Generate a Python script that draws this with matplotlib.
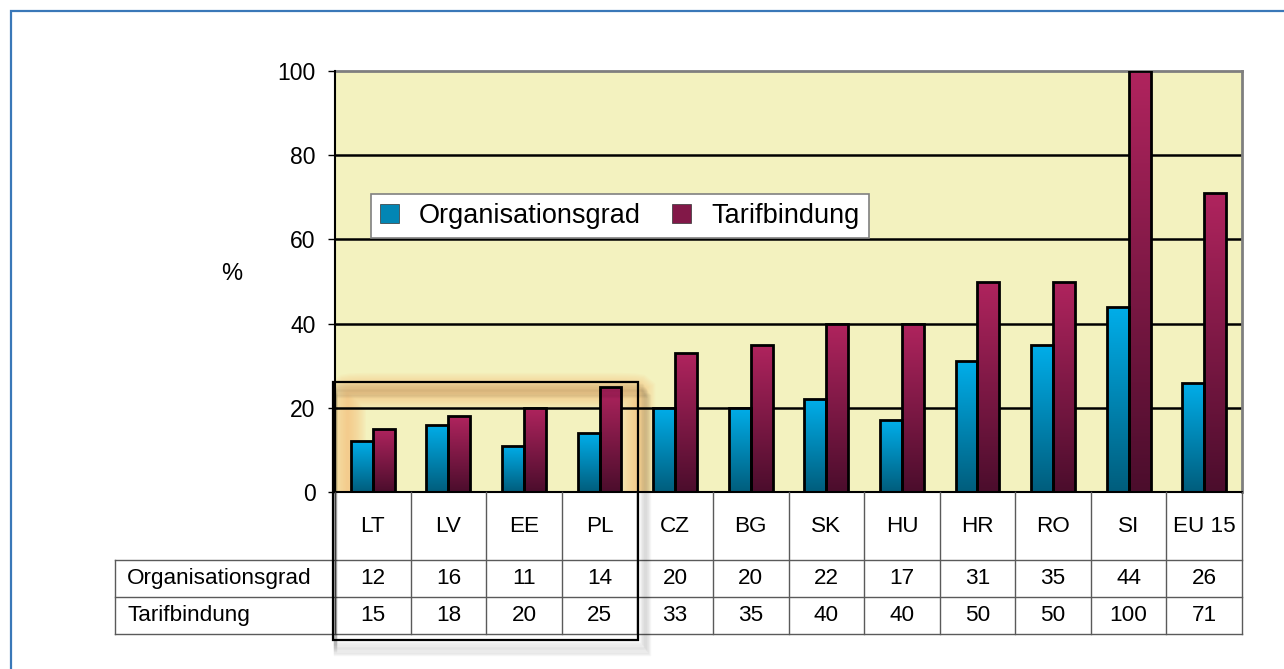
import numpy as np
import matplotlib
matplotlib.use("Agg")
import matplotlib.pyplot as plt
from matplotlib.colors import LinearSegmentedColormap
from matplotlib.patches import Rectangle, FancyBboxPatch, Patch

plt.rcParams['font.family'] = ['Liberation Sans', 'DejaVu Sans']

# Data
countries = ["LT", "LV", "EE", "PL", "CZ", "BG", "SK", "HU", "HR", "RO", "SI", "EU 15"]
organisationsgrad = [12, 16, 11, 14, 20, 20, 22, 17, 31, 35, 44, 26]
tarifbindung = [15, 18, 20, 25, 33, 35, 40, 40, 50, 50, 100, 71]
series_names = ["Organisationsgrad", "Tarifbindung"]

W, H = 1284, 669
fig = plt.figure(figsize=(W / 100, H / 100), dpi=100)
fig.patch.set_facecolor("white")


def fx(px):
    return px / W


def fy(py):
    return 1 - py / H


# blue frame around the whole picture
fig.patches.append(Rectangle((fx(11), -0.02), 1.02, fy(11) + 0.02, transform=fig.transFigure,
                             fill=False, edgecolor="#3a78b8", lw=1.6, zorder=0))

# main plot area
left, right, top, bottom = 335, 1242, 71, 492
ax = fig.add_axes([fx(left), fy(bottom), fx(right - left), (bottom - top) / H])
ax.set_facecolor("#f3f2bf")
n = len(countries)

x = np.arange(n) + 0.5
bw = 0.29
blue_top, blue_bot = "#00aeea", "#005d7c"
red_top, red_bot = "#b0245e", "#4b0d2c"


def gradient_bars(bars, c_top, c_bot):
    cmap = LinearSegmentedColormap.from_list("g", [c_bot, c_top])
    grad = np.linspace(0, 1, 256).reshape(-1, 1)
    for b in bars:
        x0, y0 = b.get_xy()
        im = ax.imshow(grad, extent=[x0, x0 + b.get_width(), y0, y0 + b.get_height()],
                       origin="lower", cmap=cmap, aspect="auto", zorder=2.5)
        im.set_clip_path(b)


b1 = ax.bar(x - bw / 2, organisationsgrad, bw, facecolor="none", edgecolor="black", lw=2, zorder=3)
b2 = ax.bar(x + bw / 2, tarifbindung, bw, facecolor="none", edgecolor="black", lw=2, zorder=3)
gradient_bars(b1, blue_top, blue_bot)
gradient_bars(b2, red_top, red_bot)
ax.set_xlim(0, n)
ax.set_ylim(0, 100)

# gridlines
for v in [20, 40, 60, 80]:
    ax.axhline(v, color="black", lw=1.8, zorder=1)

# soft orange glow around the highlighted group (LT..PL)
for lw in np.linspace(2, 26, 14):
    glow = FancyBboxPatch((0.17, -6), 3.83, 30.0,
                          boxstyle="round,pad=0,rounding_size=0.3", transform=ax.transData,
                          facecolor="none", edgecolor="#ffbe78", lw=lw, alpha=0.07, zorder=0.5)
    ax.add_patch(glow)

ax.set_xticks([])
ax.set_yticks([0, 20, 40, 60, 80, 100])
ax.tick_params(axis="y", direction="out", length=5, width=1, pad=9, labelsize=16.5, colors="black")
for s in ["left", "bottom"]:
    ax.spines[s].set_color("black")
    ax.spines[s].set_linewidth(1.5)
    ax.spines[s].set_zorder(4)
for s in ["top", "right"]:
    ax.spines[s].set_color("#7f7f7f")
    ax.spines[s].set_linewidth(2)

fig.text(fx(232), fy(274), "%", fontsize=17, ha="center", va="center")

# legend
handles = [Patch(facecolor="#0286b4", edgecolor="#333333", lw=0.5),
           Patch(facecolor="#821848", edgecolor="#333333", lw=0.5)]
leg = ax.legend(handles, series_names, loc="upper left",
                bbox_to_anchor=((371 - left) / (right - left), (bottom - 194) / (bottom - top)),
                borderaxespad=0, ncol=2, fontsize=19.5, frameon=True, fancybox=False,
                handlelength=0.7, handleheight=0.7, handletextpad=0.75, columnspacing=1.15,
                borderpad=0.33, edgecolor="#808080", facecolor="white", framealpha=1)
leg.get_frame().set_linewidth(1.2)
leg.set_zorder(5)

# data table below the plot
tb_left, tb_bottom = 115, 634
tax = fig.add_axes([fx(tb_left), fy(tb_bottom), fx(right - tb_left), (tb_bottom - bottom) / H])
ext = (left - tb_left) / ((right - left) / n)
tax.set_xlim(-ext, n)
tax.set_ylim(0, tb_bottom - bottom)
tax.axis("off")
line_c = "#5a5a5a"
hh = tb_bottom - bottom
rh = 37
for i in range(n + 1):
    tax.plot([i, i], [0, hh], color=line_c, lw=1, zorder=2, clip_on=False)
for yv in [0, rh, 2 * rh]:
    tax.plot([-ext, n], [yv, yv], color=line_c, lw=1, zorder=2, clip_on=False)
tax.plot([-ext, -ext], [0, 2 * rh], color=line_c, lw=1, zorder=2, clip_on=False)

fs = 16.2
for i, c in enumerate(countries):
    tax.text(i + 0.5, (2 * rh + hh) / 2, c, ha="center", va="center", fontsize=fs)
    tax.text(i + 0.5, 1.5 * rh, str(organisationsgrad[i]), ha="center", va="center", fontsize=fs)
    tax.text(i + 0.5, 0.5 * rh, str(tarifbindung[i]), ha="center", va="center", fontsize=fs)
tax.text(-ext + 0.16, 1.5 * rh, series_names[0], ha="left", va="center", fontsize=fs)
tax.text(-ext + 0.16, 0.5 * rh, series_names[1], ha="left", va="center", fontsize=fs)

# highlight box with soft shadow
bx0, by0, bx1, by1 = 333, 382, 638, 640
for k in range(10, 0, -1):
    fig.patches.append(Rectangle((fx(bx0 + 2), fy(by1 + 2 + k * 1.2)), fx(bx1 - bx0 + k * 0.9), (by1 - by0) / H,
                                 transform=fig.transFigure, fill=False, edgecolor="#000000",
                                 lw=2.5, alpha=0.03, zorder=4))
fig.patches.append(Rectangle((fx(bx0), fy(by1)), fx(bx1 - bx0), (by1 - by0) / H, transform=fig.transFigure,
                             fill=False, edgecolor="black", lw=1.6, zorder=5))

fig.savefig("out.png", dpi=100, facecolor="white")
